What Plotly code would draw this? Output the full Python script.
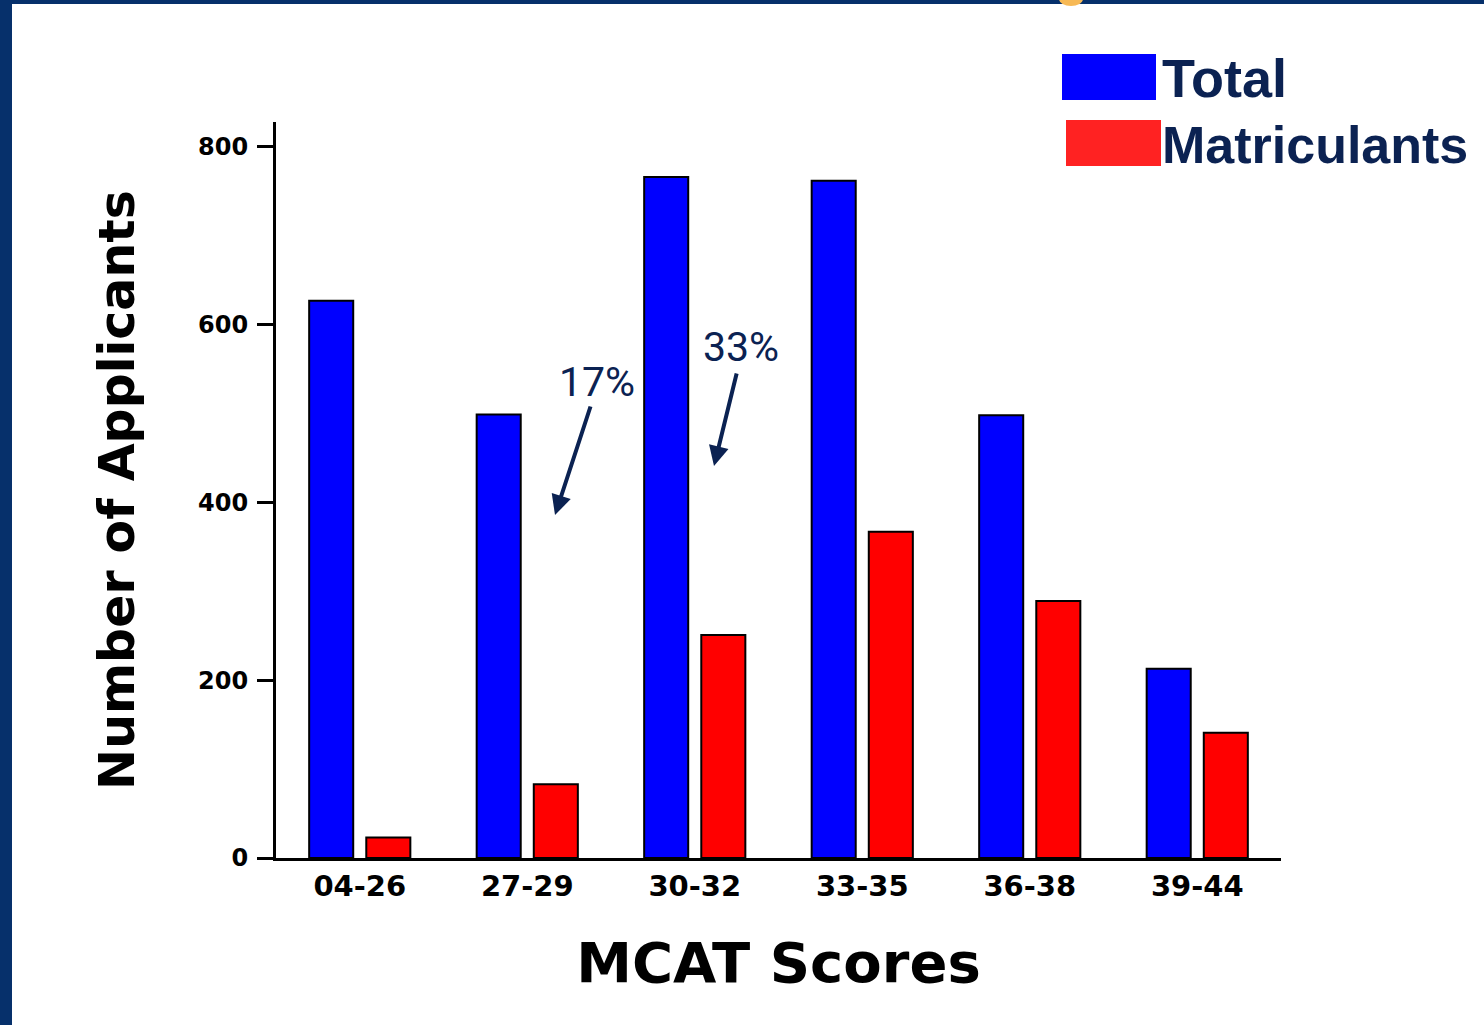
import plotly.graph_objects as go

categories = ["04-26", "27-29", "30-32", "33-35", "36-38", "39-44"]
total = [627, 499, 766, 762, 498, 213]
matriculants = [23, 83, 251, 367, 289, 141]
y_ticks = [0, 200, 400, 600, 800]
pct_labels = ["17%", "33%"]

W, H = 1484, 1025
L, R, T, B = 276, 1281, 122, 858


def px(x):
    return (x - L) / (R - L)


def py(y):
    return (B - y) / (B - T)


NAVY = "#0b2252"
BORDER = "#06306b"
TICKFONT = "DejaVu Sans"

fig = go.Figure()
fig.add_bar(x=list(range(len(categories))), y=total, name="Total",
            marker=dict(color="#0000ff", line=dict(color="black", width=2)),
            offset=-0.302, width=0.263)
fig.add_bar(x=list(range(len(categories))), y=matriculants, name="Matriculants",
            marker=dict(color="#ff0000", line=dict(color="black", width=2)),
            offset=0.039, width=0.263)

fig.update_layout(
    width=W, height=H,
    margin=dict(l=L, r=W - R, t=T, b=H - B, pad=0),
    paper_bgcolor="white", plot_bgcolor="white",
    barmode="overlay", showlegend=False,
    xaxis=dict(
        range=[-0.5, 5.5], tickmode="array",
        tickvals=list(range(len(categories))), ticktext=categories,
        showgrid=False, zeroline=False, showline=True, linecolor="black", linewidth=3,
        ticks="", tickfont=dict(family=TICKFONT, size=29, color="black", weight="bold"),
        title=dict(text="MCAT Scores", standoff=42,
                   font=dict(family=TICKFONT, size=56, color="black", weight="bold")),
    ),
    yaxis=dict(
        range=[0, 828], tickmode="array", tickvals=y_ticks,
        ticktext=[str(v) for v in y_ticks],
        showgrid=False, zeroline=False, showline=True, linecolor="black", linewidth=3,
        ticks="outside", ticklen=16, tickwidth=3, tickcolor="black",
        ticklabelstandoff=4,
        tickfont=dict(family=TICKFONT, size=24, color="black", weight="bold"),
        title=dict(text="Number of Applicants", standoff=48,
                   font=dict(family=TICKFONT, size=49, color="black", weight="bold")),
    ),
)

shapes = [
    # slide borders
    dict(type="rect", xref="paper", yref="paper", x0=px(0), x1=px(12), y0=py(H), y1=py(0),
         fillcolor=BORDER, line=dict(width=0), layer="above"),
    dict(type="rect", xref="paper", yref="paper", x0=px(0), x1=px(W), y0=py(4), y1=py(0),
         fillcolor=BORDER, line=dict(width=0), layer="above"),
    dict(type="circle", xref="paper", yref="paper", x0=px(1059), x1=px(1083), y0=py(6), y1=py(-8),
         fillcolor="#f7b955", line=dict(width=0), layer="above"),
    # legend swatches
    dict(type="rect", xref="paper", yref="paper", x0=px(1062), x1=px(1156), y0=py(100), y1=py(54),
         fillcolor="#0000ff", line=dict(width=0)),
    dict(type="rect", xref="paper", yref="paper", x0=px(1066), x1=px(1161), y0=py(166), y1=py(120),
         fillcolor="#ff2222", line=dict(width=0)),
]
fig.update_layout(shapes=shapes)

annotations = [
    dict(text="Total", xref="paper", yref="paper", x=px(1160), y=py(78), xanchor="left",
         yanchor="middle", showarrow=False,
         font=dict(family="Liberation Sans", size=54, color=NAVY, weight="bold")),
    dict(text="Matriculants", xref="paper", yref="paper", x=px(1160), y=py(145), xanchor="left",
         yanchor="middle", showarrow=False,
         font=dict(family="Liberation Sans", size=52, color=NAVY, weight="bold")),
    dict(text=pct_labels[0], xref="paper", yref="paper", x=px(597), y=py(382),
         xanchor="center", yanchor="middle", showarrow=False,
         font=dict(family="Roboto", size=41, color=NAVY)),
    dict(text=pct_labels[1], xref="paper", yref="paper", x=px(741), y=py(347),
         xanchor="center", yanchor="middle", showarrow=False,
         font=dict(family="Roboto", size=41, color=NAVY)),
    dict(text="", xref="paper", yref="paper", x=px(555), y=py(515), ax=36, ay=-110,
         showarrow=True, arrowhead=2, arrowsize=1, arrowwidth=4, arrowcolor=NAVY, standoff=0),
    dict(text="", xref="paper", yref="paper", x=px(714), y=py(466), ax=23, ay=-94,
         showarrow=True, arrowhead=2, arrowsize=1, arrowwidth=4, arrowcolor=NAVY, standoff=0),
]
fig.update_layout(annotations=annotations)

fig.write_html("out.html", config={"displayModeBar": False},
               post_script="document.body.style.margin='0';")
